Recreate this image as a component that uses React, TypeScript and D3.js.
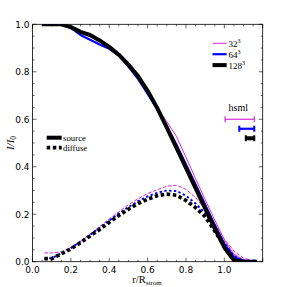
import React from 'react'
import * as d3 from 'd3'

const W = 287
const H = 287
const M = { top: 24.3, right: 24.3, bottom: 25.3, left: 32.5 }

// radius samples (r / R_strom)
const R_SRC = [0.05, 0.1, 0.15, 0.2, 0.25, 0.3, 0.35, 0.4, 0.45, 0.5, 0.55, 0.6, 0.65, 0.7, 0.75, 0.8, 0.85, 0.9, 0.95, 1.0, 1.05, 1.1, 1.17]

const SRC_32 = [1.0, 1.0, 1.0, 0.99, 0.972, 0.955, 0.93, 0.905, 0.872, 0.838, 0.782, 0.712, 0.645, 0.59, 0.528, 0.44, 0.35, 0.262, 0.176, 0.092, 0.032, 0.008, 0.0]
const SRC_64 = [1.0, 1.0, 1.0, 0.985, 0.955, 0.935, 0.915, 0.897, 0.868, 0.822, 0.77, 0.708, 0.642, 0.572, 0.494, 0.41, 0.325, 0.24, 0.155, 0.075, 0.02, 0.003, 0.0]
const SRC_128 = [1.0, 1.0, 1.0, 0.988, 0.968, 0.955, 0.932, 0.905, 0.872, 0.83, 0.782, 0.72, 0.648, 0.565, 0.48, 0.395, 0.31, 0.225, 0.14, 0.06, 0.006, 0.0, 0.0]

const R_DIF = [0.062, 0.1, 0.15, 0.2, 0.25, 0.3, 0.35, 0.4, 0.45, 0.5, 0.55, 0.6, 0.65, 0.7, 0.75, 0.8, 0.85, 0.9, 0.95, 1.0, 1.05, 1.1, 1.17]

const DIF_32 = [0.037, 0.037, 0.042, 0.06, 0.085, 0.115, 0.148, 0.18, 0.21, 0.24, 0.265, 0.287, 0.303, 0.318, 0.322, 0.305, 0.27, 0.22, 0.16, 0.095, 0.045, 0.015, 0.0]
const DIF_64 = [0.013, 0.015, 0.035, 0.057, 0.085, 0.113, 0.143, 0.173, 0.203, 0.23, 0.255, 0.275, 0.29, 0.3, 0.298, 0.278, 0.245, 0.205, 0.145, 0.08, 0.025, 0.005, 0.0]
const DIF_128 = [0.013, 0.013, 0.033, 0.054, 0.08, 0.108, 0.136, 0.166, 0.195, 0.221, 0.245, 0.263, 0.278, 0.285, 0.28, 0.258, 0.228, 0.19, 0.13, 0.065, 0.012, 0.0, 0.0]

// smoothing lengths drawn as horizontal error bars
const HSML_RIGHT = 1.156
const HSML_WIDTH = [0.152, 0.078, 0.044]
const HSML_Y = [0.6, 0.56, 0.52]

const RES = ['32', '64', '128']
const COLORS = ['#d62ad6', '#0000ff', '#000000']
const WIDTHS = [1, 2.2, 4]
const DIF_DASH = ['3.7,1.6', '2.4,2.4', '3.5,2.6']

const X_TICKS = [0, 0.2, 0.4, 0.6, 0.8, 1.0]
const Y_TICKS = [0, 0.2, 0.4, 0.6, 0.8, 1.0]

const SERIF = '"Liberation Serif", "DejaVu Serif", serif'
const SANS = '"DejaVu Sans", sans-serif'

export default function App() {
  const innerW = W - M.left - M.right
  const innerH = H - M.top - M.bottom

  const x = d3.scaleLinear().domain([0, 1.2]).range([M.left, M.left + innerW])
  const y = d3.scaleLinear().domain([0, 1]).range([M.top + innerH, M.top])

  const line = d3.line<[number, number]>().x(d => x(d[0])).y(d => y(d[1]))
  const src = [SRC_32, SRC_64, SRC_128].map(s => line(s.map((v, i) => [R_SRC[i], v] as [number, number])))
  const dif = [DIF_32, DIF_64, DIF_128].map(s => line(s.map((v, i) => [R_DIF[i], v] as [number, number])))

  const xMinor = d3.range(0, 1.2001, 0.05)
  const yMinor = d3.range(0, 1.0001, 0.05)

  return (
    <svg width={W} height={H} style={{ position: 'absolute', left: 0, top: 0, background: '#fff' }}>
      <defs>
        <clipPath id="plot">
          <rect x={M.left} y={M.top} width={innerW} height={innerH} />
        </clipPath>
      </defs>

      <g clipPath="url(#plot)">
        {dif.map((d, i) => (
          <path key={'d' + i} d={d ?? ''} fill="none" stroke={COLORS[i]} strokeWidth={i === 0 ? 1 : WIDTHS[i] - 0.3} strokeDasharray={DIF_DASH[i]} />
        ))}
        {src.map((d, i) => (
          <path key={'s' + i} d={d ?? ''} fill="none" stroke={COLORS[i]} strokeWidth={WIDTHS[i]} strokeLinejoin="round" />
        ))}
      </g>

      {/* ticks, inward on all sides */}
      {xMinor.map((t, i) => {
        const major = Math.abs(t * 5 - Math.round(t * 5)) < 1e-6
        const len = major ? 4 : 2
        return (
          <g key={'xt' + i} stroke="#000" strokeWidth={0.6}>
            <line x1={x(t)} x2={x(t)} y1={y(0)} y2={y(0) - len} />
            <line x1={x(t)} x2={x(t)} y1={y(1)} y2={y(1) + len} />
          </g>
        )
      })}
      {yMinor.map((t, i) => {
        const major = Math.abs(t * 5 - Math.round(t * 5)) < 1e-6
        const len = major ? 4 : 2
        return (
          <g key={'yt' + i} stroke="#000" strokeWidth={0.6}>
            <line x1={x(0)} x2={x(0) + len} y1={y(t)} y2={y(t)} />
            <line x1={x(1.2)} x2={x(1.2) - len} y1={y(t)} y2={y(t)} />
          </g>
        )
      })}
      <rect x={M.left} y={M.top} width={innerW} height={innerH} fill="none" stroke="#000" strokeWidth={0.8} />

      {X_TICKS.map(t => (
        <text key={'xl' + t} x={x(t)} y={y(0) + 11} textAnchor="middle" fontFamily={SANS} fontSize={9} fill="#000">
          {t.toFixed(1)}
        </text>
      ))}
      {Y_TICKS.map(t => (
        <text key={'yl' + t} x={x(0) - 3} y={y(t) + 3.3} textAnchor="end" fontFamily={SANS} fontSize={9} fill="#000">
          {t.toFixed(1)}
        </text>
      ))}

      {/* axis labels */}
      <text x={147} y={283} textAnchor="middle" fontFamily={SERIF} fontSize={10.5} fill="#000">
        r/R<tspan fontSize={7} dy={2}>strom</tspan>
      </text>
      <text transform={`translate(14, ${(M.top + M.top + innerH) / 2}) rotate(-90)`} textAnchor="middle" fontFamily={SERIF} fontSize={11} fontStyle="italic" fill="#000">
        I/I<tspan fontSize={7.5} dy={2} fontStyle="normal">0</tspan>
      </text>

      {/* resolution legend */}
      {RES.map((r, i) => (
        <g key={'lg' + r}>
          <line x1={212.5} x2={226.7} y1={43.3 + i * 10.9} y2={43.3 + i * 10.9} stroke={COLORS[i]} strokeWidth={WIDTHS[i]} />
          <text x={228.5} y={46.8 + i * 10.9} fontFamily={SERIF} fontSize={9} fill="#000">
            {r}<tspan fontSize={6} dy={-4}>3</tspan>
          </text>
        </g>
      ))}

      {/* source / diffuse legend */}
      <line x1={46.7} x2={61.7} y1={137.7} y2={137.7} stroke="#000" strokeWidth={4} />
      <text x={63} y={140.6} fontFamily={SERIF} fontSize={8.8} fill="#000">source</text>
      <line x1={46.7} x2={61.7} y1={147.7} y2={147.7} stroke="#000" strokeWidth={3.7} strokeDasharray="3.5,2.6" />
      <text x={63} y={150.6} fontFamily={SERIF} fontSize={8.8} fill="#000">diffuse</text>

      {/* hsml bars */}
      <text x={238.3} y={111} textAnchor="middle" fontFamily={SERIF} fontSize={10} fill="#000">hsml</text>
      {HSML_WIDTH.map((w, i) => {
        const x1 = x(HSML_RIGHT - w)
        const x2 = x(HSML_RIGHT)
        const yy = y(HSML_Y[i])
        const cap = 3
        return (
          <g key={'h' + i} stroke={COLORS[i]} strokeWidth={WIDTHS[i] === 1 ? 1.2 : WIDTHS[i]}>
            <line x1={x1} x2={x2} y1={yy} y2={yy} />
            <line x1={x1} x2={x1} y1={yy - cap} y2={yy + cap} strokeWidth={i === 0 ? 1.2 : 2} />
            <line x1={x2} x2={x2} y1={yy - cap} y2={yy + cap} strokeWidth={i === 0 ? 1.2 : 2} />
          </g>
        )
      })}
    </svg>
  )
}
